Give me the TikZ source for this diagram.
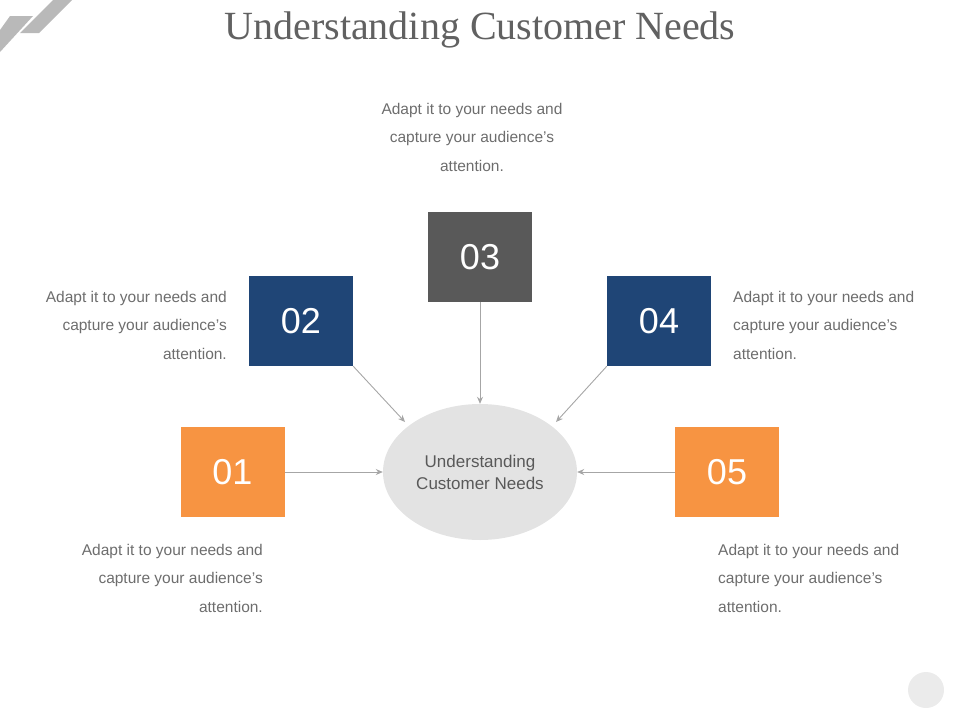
\documentclass[tikz,border=0pt]{standalone}
\usepackage{fontspec}
\setmainfont{Liberation Sans}
\newfontfamily\titlefont{Liberation Serif}
\usetikzlibrary{shapes.geometric,arrows.meta}
\definecolor{navy}{HTML}{1F4576}
\definecolor{orng}{HTML}{F79442}
\definecolor{dgray}{HTML}{595959}
\definecolor{txt}{HTML}{6D6D6D}
\definecolor{ell}{HTML}{E3E3E3}
\definecolor{arr}{HTML}{A6A6A6}
\tikzset{
 numbox/.style={minimum width=104pt,minimum height=90pt,inner sep=0pt,text=white,font=\fontsize{36}{40}\selectfont},
 desc/.style={text=txt,font=\fontsize{15.5}{28.5}\selectfont,inner sep=0pt},
 conn/.style={draw=arr,line width=0.9pt,-{Stealth[length=7pt,width=6pt]}}
}
\begin{document}
\begin{tikzpicture}[x=1pt,y=-1pt]
\useasboundingbox (0,0) rectangle (960,720);
\fill[gray!55] (10,16) -- (33,16) -- (0,52) -- (0,30) -- cycle;
\fill[gray!55] (53,0) -- (72,0) -- (39,33) -- (20,33) -- cycle;
\fill[ell!70] (926,690) circle (18);
\node (title) at (480,30) {\titlefont\fontsize{40}{44}\selectfont\color{dgray!95}Understanding Customer Needs};
\node[ellipse,fill=ell,minimum width=194pt,minimum height=136pt,text=dgray,align=center,font=\fontsize{17}{22}\selectfont] (c) at (480,472) {Understanding\\Customer Needs};
\node[numbox,fill=orng] (n1) at (232.5,472) {01};
\node[numbox,fill=navy] (n2) at (301,321) {02};
\node[numbox,fill=dgray] (n3) at (480,257) {03};
\node[numbox,fill=navy] (n4) at (659,321) {04};
\node[numbox,fill=orng] (n5) at (727,472) {05};
\coordinate (p2) at (405,422);
\coordinate (p4) at (556,422);
\draw[conn] (n1.east) -- (c.west);
\draw[conn] (n5.west) -- (c.east);
\draw[conn] (n3.south) -- (c.north);
\draw[conn] (n2.south east) -- (p2);
\draw[conn] (n4.south west) -- (p4);
\node[desc,align=center] (d3) at (472,137) {Adapt it to your needs and\\capture your audience’s\\attention.};
\node[desc,align=right,anchor=east] (d2) at (227,325) {Adapt it to your needs and\\capture your audience’s\\attention.};
\node[desc,align=left,anchor=west] (d4) at (733,325) {Adapt it to your needs and\\capture your audience’s\\attention.};
\node[desc,align=right,anchor=east] (d1) at (263,578) {Adapt it to your needs and\\capture your audience’s\\attention.};
\node[desc,align=left,anchor=west] (d5) at (718,578) {Adapt it to your needs and\\capture your audience’s\\attention.};
\end{tikzpicture}
\end{document}
